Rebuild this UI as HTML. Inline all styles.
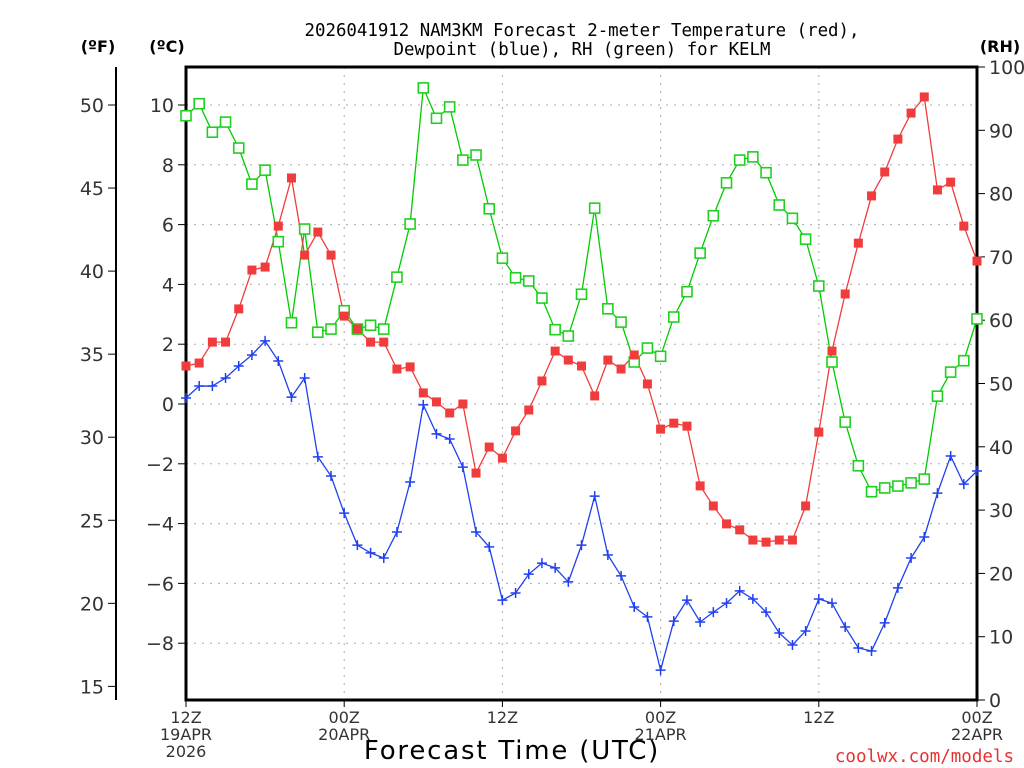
<!DOCTYPE html>
<html><head><meta charset="utf-8"><style>
html,body{margin:0;padding:0;background:#fff;}
svg{display:block;font-family:"DejaVu Sans","Liberation Sans",sans-serif;}
.mono{font-family:"DejaVu Sans Mono","Liberation Mono",monospace;}
</style></head><body>
<svg id="chart" width="1024" height="768" viewBox="0 0 1024 768" xmlns="http://www.w3.org/2000/svg">
<rect width="1024" height="768" fill="#fff"/>
<text class="mono" x="582" y="36" font-size="17.4" text-anchor="middle" fill="#000">2026041912 NAM3KM Forecast 2-meter Temperature (red),</text>
<text class="mono" x="582" y="55" font-size="17.4" text-anchor="middle" fill="#000">Dewpoint (blue), RH (green) for KELM</text>
<text x="98" y="52" font-size="16" font-weight="bold" text-anchor="middle">(ºF)</text>
<text x="167" y="52" font-size="16" font-weight="bold" text-anchor="middle">(ºC)</text>
<text x="1000" y="52" font-size="16" font-weight="bold" text-anchor="middle">(RH)</text>
<text x="512" y="759" font-size="26" letter-spacing="1.8" text-anchor="middle">Forecast Time (UTC)</text>
<text class="mono" x="1014" y="762" font-size="17.5" text-anchor="end" fill="#e83030">coolwx.com/models</text>
<g id="grid"></g><g id="axes"></g><g id="series"></g>
</svg>
<script>
const hours = Array.from({length:61},(_,i)=>i);
const tempC = [1.27,1.37,2.07,2.07,3.18,4.48,4.58,5.95,7.56,4.98,5.75,4.98,2.94,2.51,2.07,2.07,1.17,1.24,0.37,0.07,-0.30,0.0,-2.31,-1.44,-1.81,-0.90,-0.20,0.77,1.77,1.47,1.27,0.27,1.47,1.17,1.64,0.67,-0.84,-0.64,-0.74,-2.74,-3.41,-4.01,-4.21,-4.55,-4.62,-4.55,-4.55,-3.41,-0.94,1.77,3.68,5.38,6.96,7.76,8.86,9.73,10.27,7.16,7.42,5.95,4.78];
const dewC = [0.20,0.60,0.60,0.87,1.27,1.64,2.11,1.44,0.23,0.87,-1.77,-2.41,-3.65,-4.72,-4.98,-5.15,-4.28,-2.61,-0.03,-1.0,-1.17,-2.11,-4.28,-4.78,-6.56,-6.32,-5.69,-5.32,-5.48,-5.95,-4.72,-3.08,-5.05,-5.75,-6.79,-7.12,-8.90,-7.26,-6.56,-7.29,-6.96,-6.66,-6.25,-6.52,-6.96,-7.66,-8.06,-7.59,-6.52,-6.66,-7.46,-8.16,-8.26,-7.32,-6.15,-5.15,-4.45,-2.98,-1.74,-2.68,-2.24];
const rh = [92.3,94.2,89.7,91.3,87.2,81.5,83.7,72.4,59.6,74.4,58.1,58.6,61.5,58.6,59.2,58.6,66.8,75.2,96.7,91.9,93.7,85.3,86.1,77.6,69.8,66.7,66.2,63.5,58.5,57.5,64.1,77.7,61.8,59.7,53.4,55.6,54.3,60.5,64.5,70.6,76.5,81.7,85.3,85.8,83.3,78.2,76.1,72.8,65.4,53.4,43.9,37.0,32.9,33.5,33.8,34.3,34.9,48.0,51.8,53.6,60.2];
const cTicks = [10,8,6,4,2,0,-2,-4,-6,-8];
const fTicks = [50,45,40,35,30,25,20,15];
const rhTicks = [0,10,20,30,40,50,60,70,80,90,100];
const xTicks = [{h:0,l:["12Z","19APR","2026"]},{h:12,l:["00Z","20APR"]},{h:24,l:["12Z"]},{h:36,l:["00Z","21APR"]},{h:48,l:["12Z"]},{h:60,l:["00Z","22APR"]}];

const L=186,R=977,T=67,B=700;
const x=h=>L+(R-L)*h/60;
const yC=c=>404-c*29.9;
const yF=f=>yC((f-32)*5/9);
const yR=r=>B-(B-T)*r/100;
const NS="http://www.w3.org/2000/svg";
function mk(tag,attrs,parent){const e=document.createElementNS(NS,tag);for(const k in attrs)e.setAttribute(k,attrs[k]);parent.appendChild(e);return e;}
const grid=document.getElementById('grid'),axes=document.getElementById('axes'),ser=document.getElementById('series');

cTicks.forEach(c=>{
  const g=mk('line',{x1:L,x2:R,y1:yC(c),y2:yC(c),stroke:'#aaa','stroke-dasharray':'2,6'},grid);
  
  
  const t=mk('line',{x1:L-8,x2:L,y1:yC(c),y2:yC(c),stroke:'#000'},axes);
  
  
  const lb=mk('text',{x:L-12,y:yC(c)+7,'font-size':19,'text-anchor':'end',fill:'#333'},axes);
  lb.textContent=(c<0?'\u2212'+(-c):String(c));
  
  
});
[12,24,36,48].forEach(h=>{
  const g=mk('line',{x1:x(h),x2:x(h),y1:T,y2:B,stroke:'#aaa','stroke-dasharray':'2,6'},grid);
  
  
});
fTicks.forEach(f=>{
  const t=mk('line',{x1:108,x2:116,y1:yF(f),y2:yF(f),stroke:'#000'},axes);
  
  
  const lb=mk('text',{x:104,y:yF(f)+7,'font-size':19,'text-anchor':'end',fill:'#333'},axes);
  lb.textContent=String(f);
  
  
});
rhTicks.forEach(r=>{
  const t=mk('line',{x1:R,x2:R+8,y1:yR(r),y2:yR(r),stroke:'#000'},axes);
  
  
  const lb=mk('text',{x:R+12,y:yR(r)+7,'font-size':19,fill:'#333'},axes);
  lb.textContent=String(r);
  
  
});
xTicks.forEach(tk=>{
  const t=mk('line',{x1:x(tk.h),x2:x(tk.h),y1:B,y2:B+7,stroke:'#000'},axes);
  
  
  tk.l.forEach((s,i)=>{
    const lb=mk('text',{x:x(tk.h),y:B+23+i*17,'font-size':16,'text-anchor':'middle',fill:'#333'},axes);
    lb.textContent=s;
    
    
  });
});
const fl=mk('line',{x1:116,x2:116,y1:T,y2:B,stroke:'#000','stroke-width':2},axes);


const fr=mk('rect',{x:L,y:T,width:R-L,height:B-T,fill:'none',stroke:'#000','stroke-width':3},axes);



function line(vals,yf,color,name){
  const p=mk('polyline',{points:vals.map((v,i)=>x(hours[i])+','+yf(v)).join(' '),fill:'none',stroke:color,'stroke-width':1.3},ser);
  
  
}
line(rh,yR,'#00cc00','rh');
line(tempC,yC,'#f03c3c','temperature');
line(dewC,yC,'#2040f0','dewpoint');
rh.forEach((v,i)=>{
  const m=mk('rect',{x:x(hours[i])-5,y:yR(v)-5,width:10,height:10,fill:'#fff',stroke:'#20d020','stroke-width':1.6},ser);
  
  
});
tempC.forEach((v,i)=>{
  const m=mk('rect',{x:x(hours[i])-4.5,y:yC(v)-4.5,width:9,height:9,fill:'#f03c3c'},ser);
  
  
});
dewC.forEach((v,i)=>{
  const cx=x(hours[i]),cy=yC(v);
  const m=mk('path',{d:`M${cx-5},${cy}H${cx+5}M${cx},${cy-5}V${cy+5}`,stroke:'#2040f0','stroke-width':1.5},ser);
  
  
});
</script>
</body></html>
